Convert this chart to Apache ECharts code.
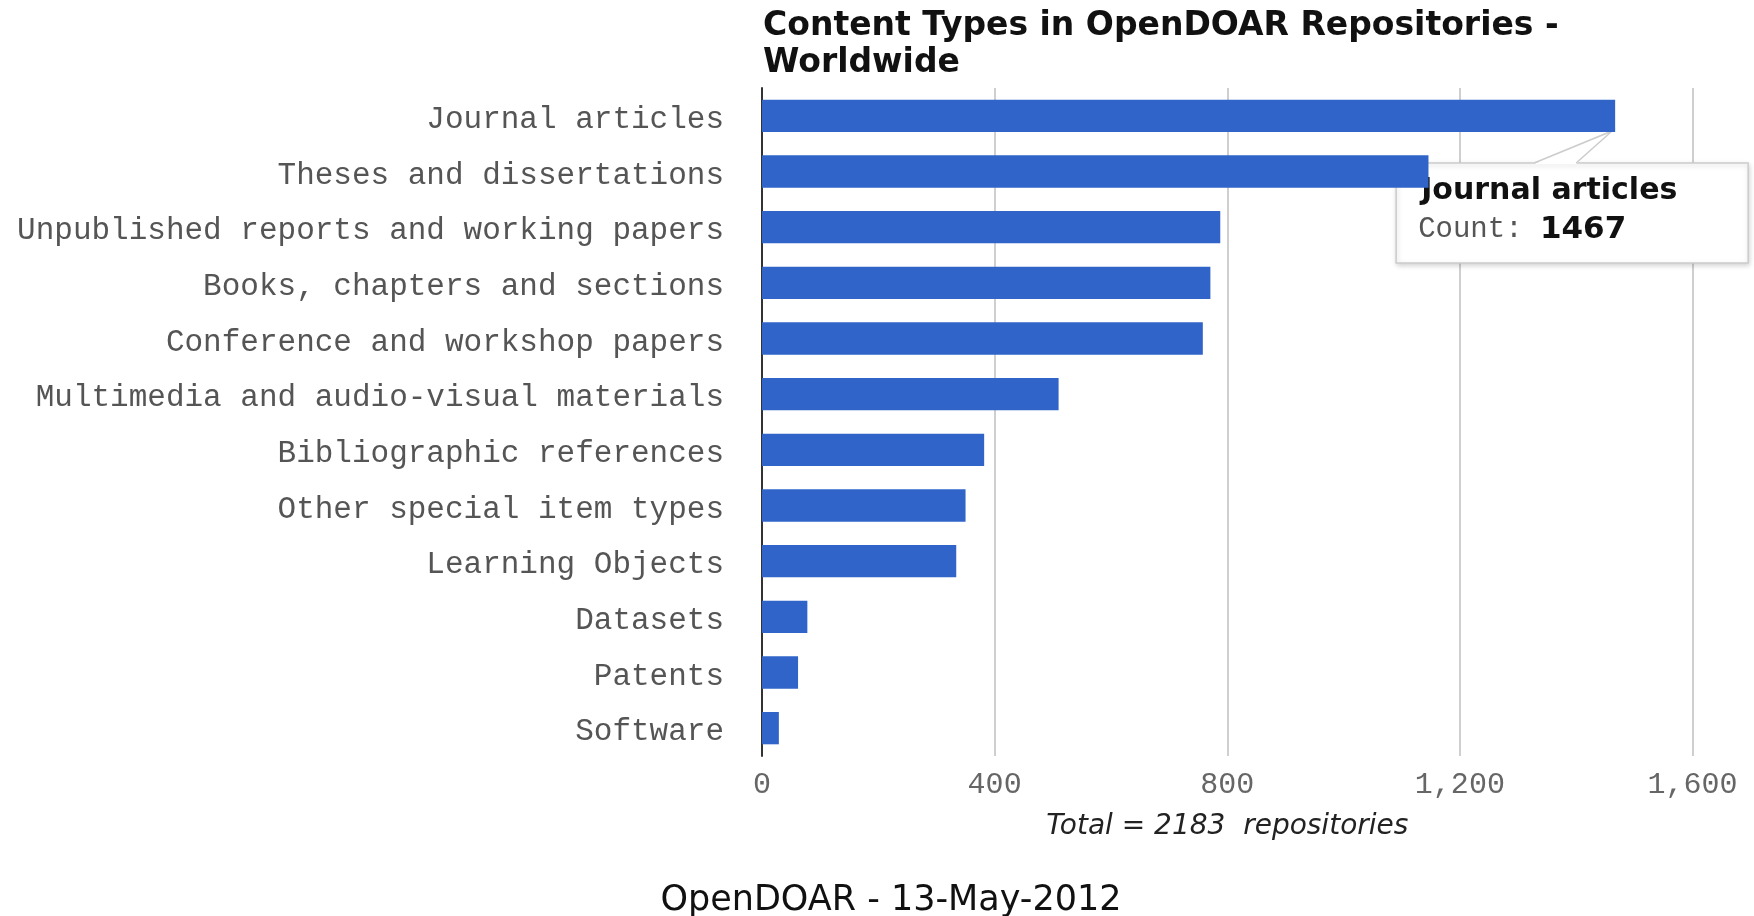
<!DOCTYPE html>
<html>
<head>
<meta charset="utf-8">
<script src="https://cdn.jsdelivr.net/npm/echarts@6/dist/echarts.min.js"></script>
<style>
html,body{margin:0;padding:0;background:#fff;}
#chart{width:1754px;height:916px;}
</style>
</head>
<body>
<div id="chart"></div>
<script>
const categories = [
  'Journal articles',
  'Theses and dissertations',
  'Unpublished reports and working papers',
  'Books, chapters and sections',
  'Conference and workshop papers',
  'Multimedia and audio-visual materials',
  'Bibliographic references',
  'Other special item types',
  'Learning Objects',
  'Datasets',
  'Patents',
  'Software'
];
const counts = [1467, 1146, 788, 771, 758, 510, 382, 350, 334, 78, 62, 29];
const xTicks = [0, 400, 800, 1200, 1600];
const titleText = 'Content Types in OpenDOAR Repositories -\nWorldwide';
const axisTitle = 'Total = 2183  repositories';
const footerText = 'OpenDOAR - 13-May-2012';
const tooltipLabel = 'Count: ';

const chart = echarts.init(document.getElementById('chart'));
const mono = '"Liberation Mono", "DejaVu Sans Mono", monospace';

const option = {
  backgroundColor: '#ffffff',
  animation: false,
  title: [
    {
      text: titleText,
      left: 758,
      top: 3,
      textStyle: {
        fontFamily: '"DejaVu Sans", sans-serif',
        fontWeight: 'bold',
        fontSize: 33,
        lineHeight: 37,
        color: '#111111'
      }
    },
    {
      text: footerText,
      left: 886,
      textAlign: 'center',
      top: 878,
      textStyle: {
        fontFamily: '"DejaVu Sans", sans-serif',
        fontWeight: 'normal',
        fontSize: 35,
        color: '#111111'
      }
    }
  ],
  grid: {
    left: 762,
    right: 61.5,
    top: 88,
    bottom: 160,
    containLabel: false
  },
  xAxis: {
    type: 'value',
    min: xTicks[0],
    max: xTicks[xTicks.length - 1],
    interval: xTicks[1] - xTicks[0],
    axisLine: { show: false },
    axisTick: { show: false },
    splitLine: { show: true, lineStyle: { color: '#cfcfcf', width: 2 } },
    axisLabel: {
      margin: 14,
      fontFamily: mono,
      fontSize: 30,
      color: '#666666',
      formatter: function (v) { return v.toLocaleString('en-US'); }
    },
    name: axisTitle,
    nameLocation: 'middle',
    nameGap: 57,
    nameTextStyle: {
      fontFamily: '"DejaVu Sans", sans-serif',
      fontStyle: 'italic',
      fontSize: 28,
      color: '#222222'
    }
  },
  yAxis: {
    type: 'category',
    data: categories,
    inverse: true,
    axisLine: { show: true, lineStyle: { color: '#333333', width: 2 } },
    axisTick: { show: false },
    splitLine: { show: false },
    axisLabel: {
      margin: 38,
      fontFamily: mono,
      fontSize: 31,
      color: '#555555',
      verticalAlign: 'top',
      lineHeight: 8
    }
  },
  series: [
    {
      type: 'bar',
      data: counts,
      barWidth: '58%',
      itemStyle: { color: '#3164c9' },
      z: 2
    }
  ]
};
chart.setOption(option);

// Callout box for the first category, anchored to the bar end through the library's scales
(function addCallout() {
  const center = chart.convertToPixel({ gridIndex: 0 }, [counts[0], 0]);
  const band = chart.convertToPixel({ gridIndex: 0 }, [0, 1])[1] - chart.convertToPixel({ gridIndex: 0 }, [0, 0])[1];
  const barHalf = band * 0.58 / 2;
  const tipX = center[0] - 3;
  const tipY = center[1] + barHalf - 1;
  const bx = center[0] - 219;
  const by = center[1] + barHalf + 31;
  const bw = 352, bh = 100;
  const b1 = bx + 138, b2 = bx + 180;
  chart.setOption({
    graphic: [
      {
        type: 'group',
        z: 100,
        children: [
          {
            type: 'rect',
            shape: { x: bx, y: by, width: bw, height: bh },
            style: {
              fill: '#ffffff', stroke: '#cccccc', lineWidth: 1.5,
              shadowBlur: 5, shadowColor: 'rgba(0,0,0,0.18)', shadowOffsetX: 1, shadowOffsetY: 2
            }
          },
          {
            type: 'polygon',
            shape: { points: [[b1, by + 1], [tipX, tipY], [b2, by + 1]] },
            style: { fill: '#ffffff', stroke: null }
          },
          {
            type: 'polyline',
            shape: { points: [[b1, by], [tipX, tipY], [b2, by]] },
            style: { fill: null, stroke: '#cccccc', lineWidth: 1.5 }
          },
          {
            type: 'text',
            x: bx + 25, y: by + 13,
            style: {
              text: categories[0],
              fontFamily: '"DejaVu Sans", sans-serif',
              fontWeight: 'bold',
              fontSize: 30,
              fill: '#111111'
            }
          },
          {
            type: 'text',
            x: bx + 22, y: by + 51,
            style: {
              text: '{a|' + tooltipLabel + '}{b|' + counts[0] + '}',
              rich: {
                a: { fontFamily: mono, fontSize: 29, fill: '#555555', color: '#555555' },
                b: { fontFamily: '"DejaVu Sans", sans-serif', fontWeight: 'bold', fontSize: 31, fill: '#111111', color: '#111111' }
              }
            }
          }
        ]
      }
    ]
  });
})();
</script>
</body>
</html>
